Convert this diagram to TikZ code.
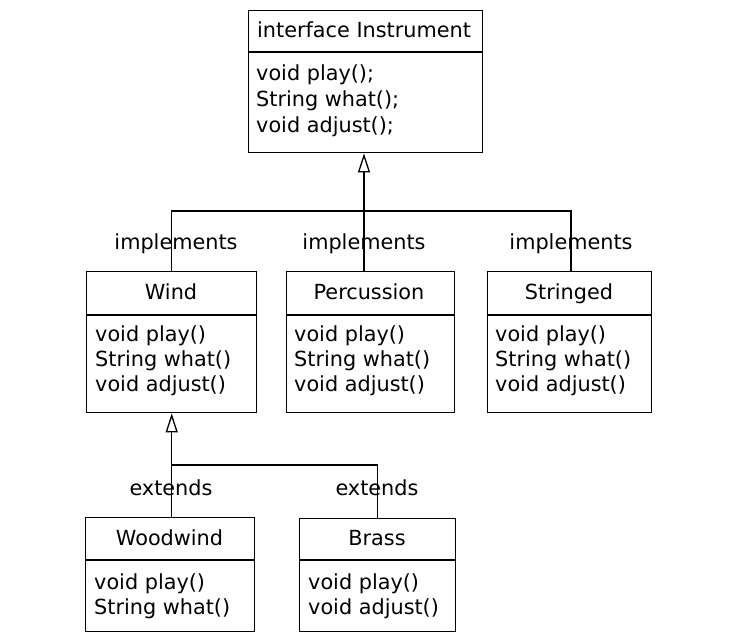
\documentclass[tikz,border=0pt]{standalone}
\usepackage{fontspec}
\setmainfont{DejaVu Sans}
\usetikzlibrary{arrows.meta}
\begin{document}
\begin{tikzpicture}[x=1pt,y=-1pt,
  umlbox/.style={draw, line width=1.4pt, rectangle, anchor=north west, inner sep=0pt},
  divline/.style={line width=1.4pt},
  conn/.style={line width=1.4pt},
  txt/.style={inner sep=0pt, font=\fontsize{20.8}{24}\selectfont},
  meth/.style={txt, anchor=base west},
  ttl/.style={txt, anchor=base},
  gen/.style={-{Triangle[open, width=12pt, length=19pt, line width=1.3pt]}}
]
\useasboundingbox (0,0) rectangle (729,635);
% boxes
\node[umlbox, minimum width=234pt, minimum height=142pt] (inst) at (248,10) {};
\draw[divline] (248,52) -- (482,52);
\node[meth] (instT) at (257,37) {interface Instrument};
\node[meth] (instM1) at (256,80) {void play();};
\node[meth] (instM2) at (256,106) {String what();};
\node[meth] (instM3) at (256,132) {void adjust();};

\node[umlbox, minimum width=170pt, minimum height=141pt] (wind) at (86,271) {};
\draw[divline] (86,315) -- (256,315);
\node[ttl] (windT) at (171,299) {Wind};
\node[meth] (windM1) at (95,341) {void play()};
\node[meth] (windM2) at (95,366) {String what()};
\node[meth] (windM3) at (95,391) {void adjust()};

\node[umlbox, minimum width=168pt, minimum height=141pt] (perc) at (286,271) {};
\draw[divline] (286,315) -- (454,315);
\node[ttl] (percT) at (369,299) {Percussion};
\node[meth] (percM1) at (294,341) {void play()};
\node[meth] (percM2) at (294,366) {String what()};
\node[meth] (percM3) at (294,391) {void adjust()};

\node[umlbox, minimum width=164pt, minimum height=141pt] (str) at (487,271) {};
\draw[divline] (487,315) -- (651,315);
\node[ttl] (strT) at (569,299) {Stringed};
\node[meth] (strM1) at (495,341) {void play()};
\node[meth] (strM2) at (495,366) {String what()};
\node[meth] (strM3) at (495,391) {void adjust()};

\node[umlbox, minimum width=169pt, minimum height=114pt] (wood) at (85,517) {};
\draw[divline] (85,560) -- (254,560);
\node[ttl] (woodT) at (169.5,545) {Woodwind};
\node[meth] (woodM1) at (94,589) {void play()};
\node[meth] (woodM2) at (94,614) {String what()};

\node[umlbox, minimum width=156pt, minimum height=113pt] (brass) at (299,518) {};
\draw[divline] (299,560) -- (455,560);
\node[ttl] (brassT) at (377,545) {Brass};
\node[meth] (brassM1) at (308,589) {void play()};
\node[meth] (brassM2) at (308,614) {void adjust()};

% connectors
\coordinate (j1) at (364,211);
\coordinate (j2) at (171,465);
\draw[conn, gen] (inst.south -| j1) ++(0,119) -- (inst.south -| j1);
\draw[conn] (wind.north) |- (j1) -| (str.north -| 571,0);
\draw[conn, gen] (wind.south |- wood.north) -- (wind.south);
\draw[conn] (j2) -| (brass.north);

% labels
\node[ttl] (l1) at (176,249) {implements};
\node[ttl] (l2) at (364,249) {implements};
\node[ttl] (l3) at (571,249) {implements};
\node[ttl] (l4) at (171,495) {extends};
\node[ttl] (l5) at (377,495) {extends};
\end{tikzpicture}
\end{document}
